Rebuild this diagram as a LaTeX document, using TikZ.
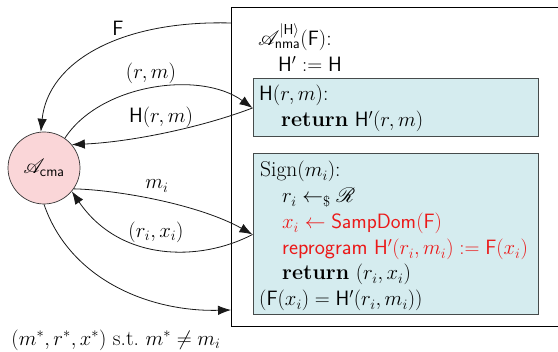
\documentclass[tikz,border=0pt]{standalone}
\usepackage{amsmath,amssymb}
\usepackage{mathrsfs}
\usetikzlibrary{arrows.meta}
\definecolor{cpink}{RGB}{250,214,216}
\definecolor{ccyan}{RGB}{213,236,239}
\definecolor{cred}{RGB}{235,25,25}
\definecolor{cborder}{RGB}{70,75,75}
\newcommand{\Hs}{\mathsf{H}}
\newcommand{\Fs}{\mathsf{F}}
\begin{document}
\begin{tikzpicture}[x=1pt,y=-1pt,
  every node/.style={font=\fontsize{21.5}{25}\selectfont},
  arr/.style={draw=black!90, line width=0.8pt, -{Latex[length=13pt,width=9.5pt]}},
  oracle/.style={draw=cborder, line width=1pt, fill=ccyan, minimum width=285pt, inner sep=0pt},
  txt/.style={anchor=base west, inner sep=0pt},
  lbl/.style={inner sep=0pt}]
\useasboundingbox (0,0) rectangle (558,352);
% outer box
\node[draw=black, line width=0.8pt, minimum width=330pt, minimum height=319pt, inner sep=0pt] (outer) at (396,166.5) {};
% oracle boxes
\node[oracle, minimum height=58pt] (hbox) at (395.5,108) {};
\node[oracle, minimum height=161pt] (sbox) at (395.5,234.5) {};
% adversary
\node[circle, draw=black!80, line width=0.7pt, fill=cpink, minimum size=72pt, inner sep=0pt] (A) at (44,168) {$\mathscr{A}_{\mathsf{cma}}$};
% reduction header
\node[txt] (t1) at (258,45.5) {$\mathscr{A}^{|\Hs\rangle}_{\mathsf{nma}}(\Fs)$:};
\node[txt] (t2) at (278,72) {$\Hs' \mathrel{\mathop:}= \Hs$};
% H oracle
\node[txt] (h1) at (259,101) {$\Hs(r,m)$:};
\node[txt] (h2) at (281,127) {\textbf{return} $\Hs'(r,m)$};
% Sign oracle
\node[txt] (s1) at (260,177) {Sign$(m_i)$:};
\node[txt] (s2) at (282,203) {$r_i \mathrel{\leftarrow_{\$}} \mathscr{R}$};
\node[txt, text=cred] (s3) at (282,229) {$x_i \leftarrow \mathsf{SampDom}(\Fs)$};
\node[txt, text=cred] (s4) at (282,255) {\textsf{reprogram} $\Hs'(r_i,m_i) \mathrel{\mathop:}= \Fs(x_i)$};
\node[txt] (s5) at (282,280) {\textbf{return} $(r_i,x_i)$};
\node[txt] (s6) at (259,306) {$(\Fs(x_i) = \Hs'(r_i,m_i))$};
% connectors
\coordinate (fs) at (231,23);
\coordinate (fin) at (231,310);
\draw[arr] (fs) .. controls (120,20) and (48,62) .. (A.95);
\draw[arr] (A.55) .. controls (100,84) and (200,70) .. (hbox.west);
\draw[arr] (hbox.west) .. controls (200,128) and (130,142) .. (A.40);
\draw[arr] (A.-35) .. controls (120,190) and (200,205) .. (sbox.west);
\draw[arr] (sbox.west) .. controls (200,262) and (120,262) .. (A.-40);
\draw[arr] (A.-90) .. controls (70,280) and (150,312) .. (fin);
% labels
\node[lbl] (lF) at (118,28) {$\Fs$};
\node[lbl] (lrm) at (151,73) {$(r,m)$};
\node[lbl] (lHrm) at (161,117) {$\Hs(r,m)$};
\node[lbl] (lmi) at (157,186) {$m_i$};
\node[lbl] (lrx) at (156,232) {$(r_i,x_i)$};
\node[lbl] (lout) at (116,340) {$(m^*,r^*,x^*)$ s.t.\ $m^*\neq m_i$};
\end{tikzpicture}
\end{document}
